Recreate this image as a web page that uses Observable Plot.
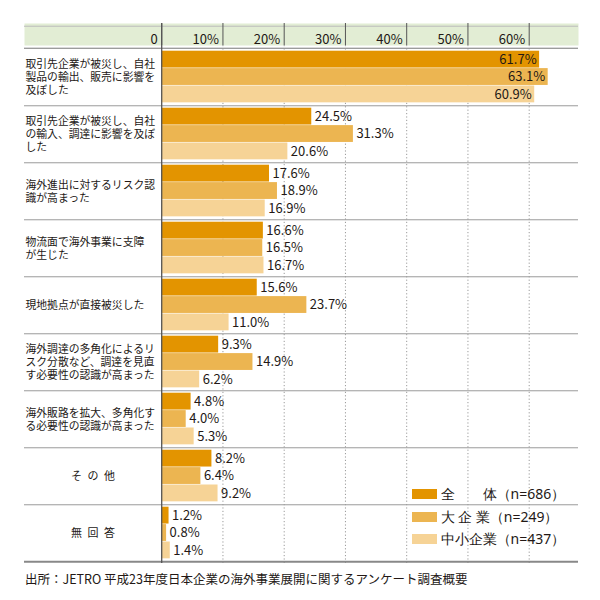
<!DOCTYPE html>
<html>
<head>
<meta charset="utf-8">
<script src="https://cdn.jsdelivr.net/npm/d3@7"></script>
<script src="https://cdn.jsdelivr.net/npm/@observablehq/plot@0.6"></script>
<style>
  body { margin: 0; background: #fff; font-family: "Noto Sans CJK JP", sans-serif; color: #231815; }
  #chart { position: relative; width: 600px; height: 600px; }
  #legend { position: absolute; left: 412px; top: 483px; }
  #legend .lg-swatch { display: flex; align-items: center; height: 22.5px; margin: 0; padding: 0; font-size: 14px; }
  #legend .lg-swatch svg { margin-right: 3.5px; }
  #caption { position: absolute; left: 25px; top: 569px; font-size: 12.5px; white-space: nowrap; }
</style>
</head>
<body>
<div id="chart"></div>
<script>
// 回答項目（複数回答）
const categories = [
  "取引先企業が被災し、自社\n製品の輸出、販売に影響を\n及ぼした",
  "取引先企業が被災し、自社\nの輸入、調達に影響を及ぼ\nした",
  "海外進出に対するリスク認\n識が高まった",
  "物流面で海外事業に支障\nが生じた",
  "現地拠点が直接被災した",
  "海外調達の多角化によるリ\nスク分散など、調達を見直\nす必要性の認識が高まった",
  "海外販路を拡大、多角化す\nる必要性の認識が高まった",
  "そ\u2002の\u2002他",
  "無\u2002回\u2002答"
];
// 短い項目は列の中央に置く
const centeredCategories = categories.slice(-2);

const seriesNames = ["全　　体（n=686）", "大 企 業（n=249）", "中小企業（n=437）"];
const totalValues = [61.7, 24.5, 17.6, 16.6, 15.6, 9.3, 4.8, 8.2, 1.2];
const largeValues = [63.1, 31.3, 18.9, 16.5, 23.7, 14.9, 4.0, 6.4, 0.8];
const smeValues   = [60.9, 20.6, 16.9, 16.7, 11.0, 6.2, 5.3, 9.2, 1.4];

const tickValues = [0, 10, 20, 30, 40, 50, 60];
const tickLabels = ["0", "10%", "20%", "30%", "40%", "50%", "60%"];

const seriesColors = ["#e39400", "#ecb551", "#f6d396"];
const sourceNote = "出所：JETRO 平成23年度日本企業の海外事業展開に関するアンケート調査概要";

// 描画用の表
const seriesValues = [totalValues, largeValues, smeValues];
const rows = categories.flatMap((cat, i) =>
  seriesNames.map((series, k) => ({cat, series, k, value: seriesValues[k][i]}))
);

// レイアウト
const width = 600, height = 565;
const marginTop = 45, marginBottom = 2, marginLeft = 24, marginRight = 22;
const headerH = 22;
const frameH = height - marginTop - marginBottom;
const bandH = frameH / categories.length;
const barH = 17.4, barPad = 2.7;
const xMin = -22.4, xMax = 68.05; // 左側は項目名の列

const barMarks = seriesNames.map((s, k) =>
  Plot.barX(rows.filter(d => d.k === k), {
    x: "value", y: "cat", fill: "series",
    insetTop: barPad + k * barH,
    insetBottom: bandH - barPad - (k + 1) * barH
  })
);
const labelDy = k => barPad + k * barH + barH / 2 - bandH / 2;
const valueText = d => d.value.toFixed(1) + "%";
const valueMarks = seriesNames.flatMap((s, k) => [
  Plot.text(rows.filter(d => d.k === k && d.value < 50), {
    x: "value", y: "cat", text: valueText, textAnchor: "start", dx: 3, dy: labelDy(k), fontSize: 13
  }),
  Plot.text(rows.filter(d => d.k === k && d.value >= 50), {
    x: "value", y: "cat", text: valueText, textAnchor: "end", dx: -3, dy: labelDy(k), fontSize: 13
  })
]);

const chart = Plot.plot({
  width, height, marginTop, marginBottom, marginLeft, marginRight,
  style: {fontFamily: "'Noto Sans CJK JP', sans-serif", fontSize: "13px", color: "#231815", background: "transparent"},
  x: {domain: [xMin, xMax], axis: null},
  y: {domain: categories, padding: 0, axis: null},
  color: {domain: seriesNames, range: seriesColors},
  marks: [
    // 見出し帯
    Plot.frame({fill: "#e2edd4", stroke: null, insetTop: -headerH, insetBottom: frameH}),
    Plot.ruleY([categories[0]], {dy: -bandH / 2 - headerH, stroke: "#bbb"}),
    Plot.ruleY([categories[0]], {dy: -bandH / 2, stroke: "#777"}),
    Plot.ruleX(tickValues, {stroke: "#555", insetTop: -headerH, insetBottom: frameH}),
    Plot.text(tickValues, {x: d => d, text: (d, i) => tickLabels[i], frameAnchor: "top", dy: -headerH / 2, dx: -4, textAnchor: "end", fontSize: 13}),
    // 目盛線
    Plot.ruleX(tickValues.filter(v => v > 0), {stroke: "#9a9a9a", strokeDasharray: "1.2,2.2"}),
    // 項目の区切り線
    Plot.ruleY(categories.slice(0, -1), {dy: bandH / 2, stroke: "#9a9a9a"}),
    Plot.ruleY(categories.slice(-1), {dy: bandH / 2, stroke: "#888", strokeWidth: 2}),
    ...barMarks,
    Plot.ruleX([0], {stroke: "#555", strokeWidth: 1.3, insetTop: -headerH}),
    // 項目名
    Plot.text(categories.filter(c => !centeredCategories.includes(c)), {
      y: d => d, text: d => d, frameAnchor: "left", dx: 1, textAnchor: "start", fontSize: 10.8, lineHeight: 1.2
    }),
    Plot.text(centeredCategories, {
      x: xMin / 2, y: d => d, text: d => d, textAnchor: "middle", fontSize: 11
    }),
    ...valueMarks
  ]
});

const root = document.getElementById("chart");
root.appendChild(chart);

const legend = chart.legend("color", {legend: "swatches", className: "lg", columns: 1, swatchWidth: 25, swatchHeight: 10});
legend.id = "legend";
root.appendChild(legend);

const caption = document.createElement("div");
caption.id = "caption";
caption.textContent = sourceNote;
root.appendChild(caption);
</script>
</body>
</html>
